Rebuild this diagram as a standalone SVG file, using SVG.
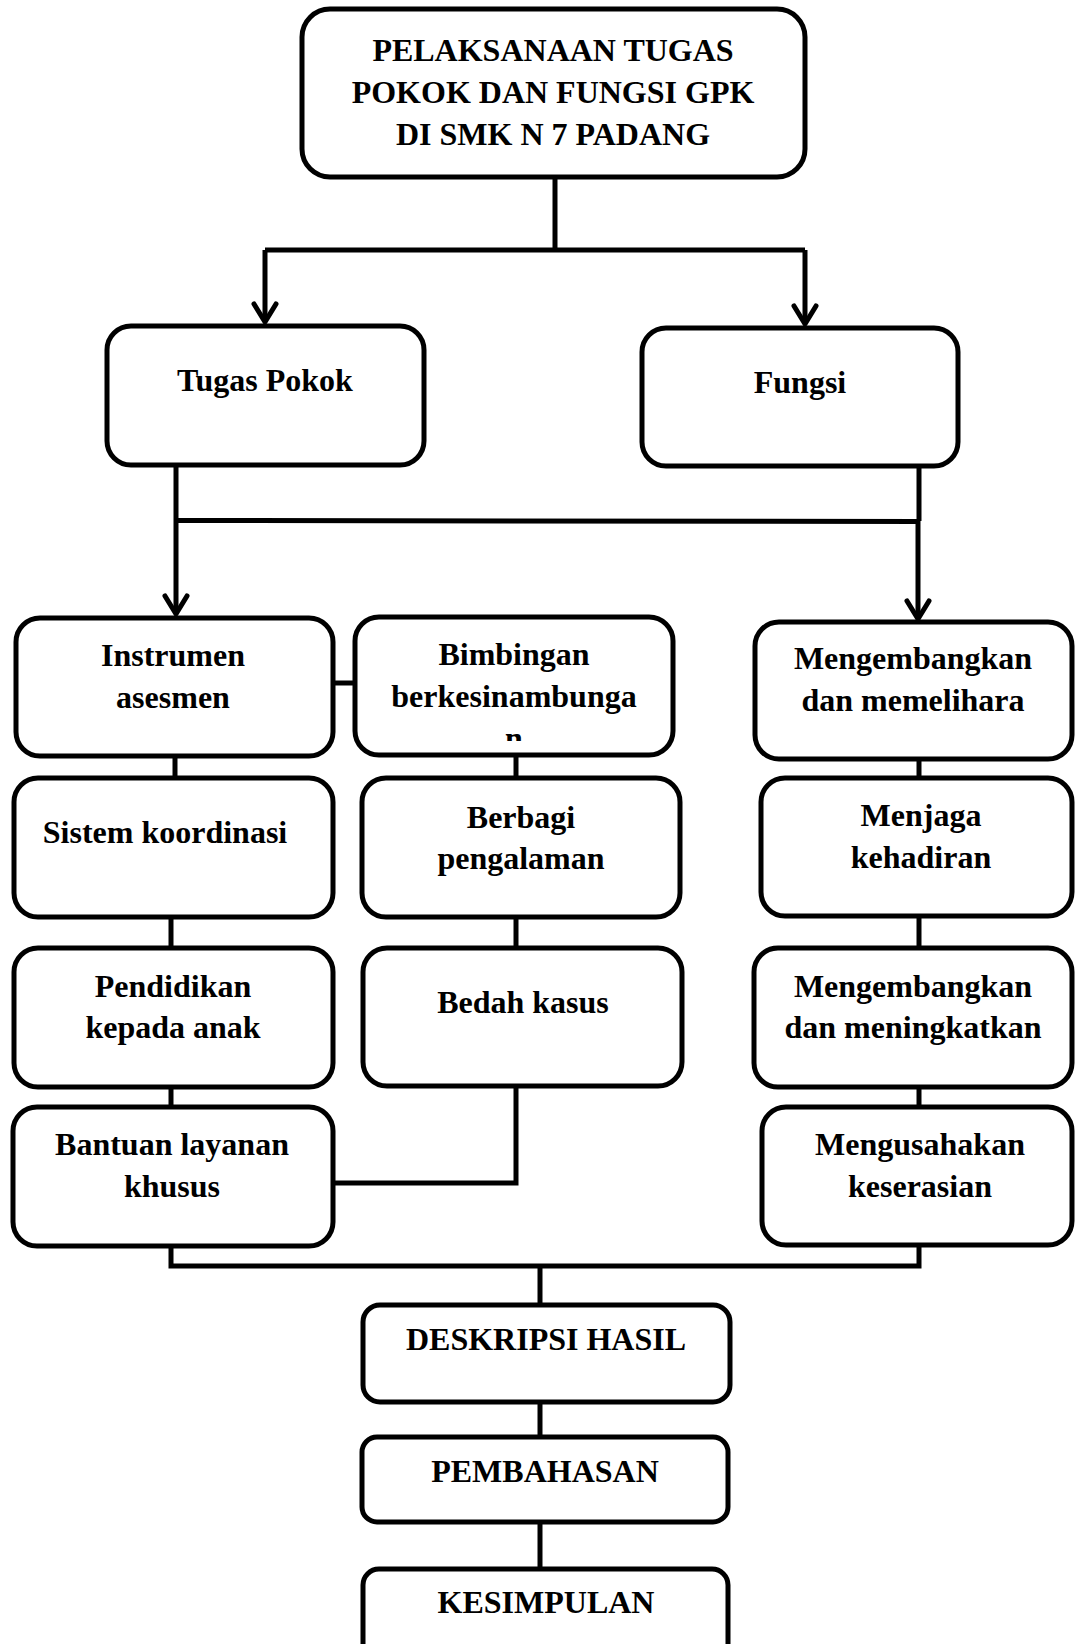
<svg xmlns="http://www.w3.org/2000/svg" width="1077" height="1644" viewBox="0 0 1077 1644">
<style>
.box{fill:#fff;stroke:#000;stroke-width:5}
.t{font-family:"Liberation Serif","Times New Roman",serif;font-weight:bold;font-size:32px;fill:#000;text-anchor:middle}
.c{fill:none;stroke:#000;stroke-width:5;stroke-linejoin:miter}
</style>
<defs>
<marker id="arr" markerUnits="userSpaceOnUse" markerWidth="30" markerHeight="30" viewBox="-25 -15 30 30" refX="0" refY="0" orient="auto">
<path d="M-18,-11 L0,0 L-18,11" fill="none" stroke="#000" stroke-width="5" stroke-linecap="round" stroke-linejoin="round"/>
</marker>
<clipPath id="clipBim"><rect x="355" y="617" width="318" height="124"/></clipPath>
</defs>
<rect width="1077" height="1644" fill="#fff"/>
<g id="connectors">
<path class="c" d="M555,177 V250"/>
<path class="c" d="M265,250 H805"/>
<path class="c" d="M265,250 V322" marker-end="url(#arr)"/>
<path class="c" d="M805,250 V324" marker-end="url(#arr)"/>
<path class="c" d="M176,465 V614" marker-end="url(#arr)"/>
<path class="c" d="M176,520.5 L919,521.5"/>
<path class="c" d="M919,466 V521"/>
<path class="c" d="M918,521 V619" marker-end="url(#arr)"/>
<path class="c" d="M333,683 H355"/>
<path class="c" d="M175,756 V778"/>
<path class="c" d="M171,917 V948"/>
<path class="c" d="M171,1087 V1107"/>
<path class="c" d="M516,755 V778"/>
<path class="c" d="M516,917 V948"/>
<path class="c" d="M333,1183 H516 V1086"/>
<path class="c" d="M919,759 V778"/>
<path class="c" d="M919,916 V948"/>
<path class="c" d="M919,1087 V1107"/>
<path class="c" d="M171,1246 V1266 H919 V1245"/>
<path class="c" d="M540,1266 V1305"/>
<path class="c" d="M540,1402 V1437"/>
<path class="c" d="M540,1522 V1569"/>
</g>
<g id="node-top">
<rect class="box" x="302" y="9" width="503" height="168" rx="28"/>
<text class="t" x="553" y="61">PELAKSANAAN TUGAS</text>
<text class="t" x="553" y="103">POKOK DAN FUNGSI GPK</text>
<text class="t" x="553" y="145">DI SMK N 7 PADANG</text>
</g>
<g id="node-tugas">
<rect class="box" x="107" y="326" width="317" height="139" rx="24"/>
<text class="t" x="265" y="391">Tugas Pokok</text>
</g>
<g id="node-fungsi">
<rect class="box" x="642" y="328" width="316" height="138" rx="24"/>
<text class="t" x="800" y="393">Fungsi</text>
</g>
<g id="node-instrumen">
<rect class="box" x="16" y="618" width="317" height="138" rx="24"/>
<text class="t" x="173" y="666">Instrumen</text>
<text class="t" x="173" y="708">asesmen</text>
</g>
<g id="node-bimbingan">
<rect class="box" x="355" y="617" width="318" height="138" rx="24"/>
<g clip-path="url(#clipBim)">
<text class="t" x="514" y="665">Bimbingan</text>
<text class="t" x="514" y="707">berkesinambunga</text>
<text class="t" x="514" y="749">n</text>
</g>
</g>
<g id="node-mengembangkan1">
<rect class="box" x="755" y="622" width="317" height="137" rx="24"/>
<text class="t" x="913" y="669">Mengembangkan</text>
<text class="t" x="913" y="711">dan memelihara</text>
</g>
<g id="node-sistem">
<rect class="box" x="14" y="778" width="319" height="139" rx="24"/>
<text class="t" x="165" y="843">Sistem koordinasi</text>
</g>
<g id="node-berbagi">
<rect class="box" x="362" y="778" width="318" height="139" rx="24"/>
<text class="t" x="521" y="828">Berbagi</text>
<text class="t" x="521" y="869">pengalaman</text>
</g>
<g id="node-menjaga">
<rect class="box" x="761" y="778" width="311" height="138" rx="24"/>
<text class="t" x="921" y="826">Menjaga</text>
<text class="t" x="921" y="868">kehadiran</text>
</g>
<g id="node-pendidikan">
<rect class="box" x="14" y="948" width="319" height="139" rx="24"/>
<text class="t" x="173" y="997">Pendidikan</text>
<text class="t" x="173" y="1038">kepada anak</text>
</g>
<g id="node-bedah">
<rect class="box" x="363" y="948" width="319" height="138" rx="24"/>
<text class="t" x="523" y="1013">Bedah kasus</text>
</g>
<g id="node-mengembangkan2">
<rect class="box" x="754" y="948" width="318" height="139" rx="24"/>
<text class="t" x="913" y="997">Mengembangkan</text>
<text class="t" x="913" y="1038">dan meningkatkan</text>
</g>
<g id="node-bantuan">
<rect class="box" x="13" y="1107" width="320" height="139" rx="24"/>
<text class="t" x="172" y="1155">Bantuan layanan</text>
<text class="t" x="172" y="1197">khusus</text>
</g>
<g id="node-mengusahakan">
<rect class="box" x="762" y="1107" width="310" height="138" rx="24"/>
<text class="t" x="920" y="1155">Mengusahakan</text>
<text class="t" x="920" y="1197">keserasian</text>
</g>
<g id="node-deskripsi">
<rect class="box" x="363" y="1305" width="367" height="97" rx="17"/>
<text class="t" x="546" y="1350">DESKRIPSI HASIL</text>
</g>
<g id="node-pembahasan">
<rect class="box" x="362" y="1437" width="366" height="85" rx="15"/>
<text class="t" x="545" y="1482">PEMBAHASAN</text>
</g>
<g id="node-kesimpulan">
<rect class="box" x="363" y="1569" width="365" height="100" rx="16"/>
<text class="t" x="546" y="1613">KESIMPULAN</text>
</g>
</svg>
